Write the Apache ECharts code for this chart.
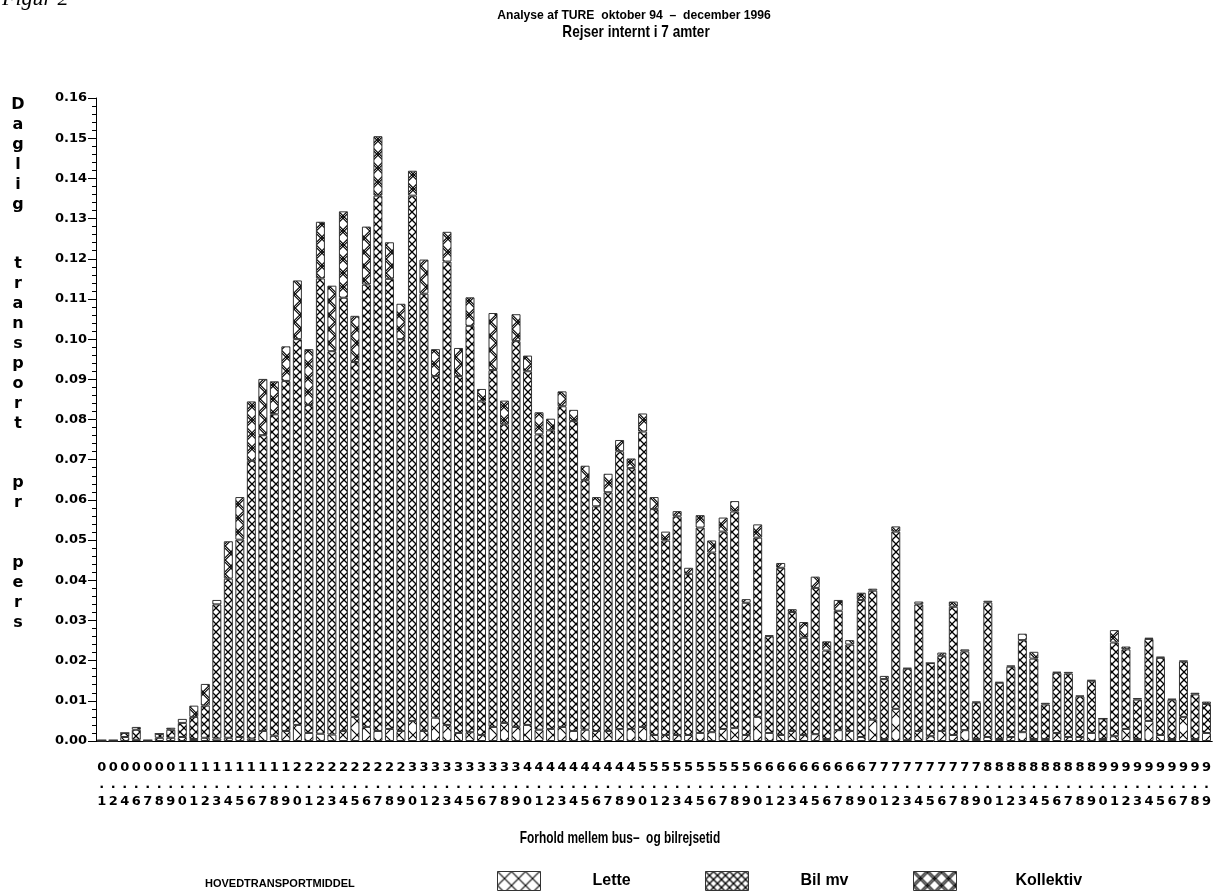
<!DOCTYPE html>
<html>
<head>
<meta charset="UTF-8">
<script src="https://cdn.jsdelivr.net/npm/echarts@6/dist/echarts.min.js"></script>
<style>
  html, body { margin: 0; padding: 0; background: #fff; }
  #chart { width: 1214px; height: 894px; }
</style>
</head>
<body>
<div id="chart"></div>
<script>
// forhold mellem bus- og bilrejsetid
var categories = ['0.1','0.2','0.4','0.6','0.7','0.8','0.9',
  '1.0','1.1','1.2','1.3','1.4','1.5','1.6','1.7','1.8','1.9',
  '2.0','2.1','2.2','2.3','2.4','2.5','2.6','2.7','2.8','2.9',
  '3.0','3.1','3.2','3.3','3.4','3.5','3.6','3.7','3.8','3.9',
  '4.0','4.1','4.2','4.3','4.4','4.5','4.6','4.7','4.8','4.9',
  '5.0','5.1','5.2','5.3','5.4','5.5','5.6','5.7','5.8','5.9',
  '6.0','6.1','6.2','6.3','6.4','6.5','6.6','6.7','6.8','6.9',
  '7.0','7.1','7.2','7.3','7.4','7.5','7.6','7.7','7.8','7.9',
  '8.0','8.1','8.2','8.3','8.4','8.5','8.6','8.7','8.8','8.9',
  '9.0','9.1','9.2','9.3','9.4','9.5','9.6','9.7','9.8','9.9'];

var lette = [0,0,0.001,0.0003,0,0.0008,0.0008,
  0.001,0.0005,0.0008,0.0006,0.0008,0.001,0.0006,0.0025,0.0013,0.0025,
  0.004,0.002,0.0018,0.0016,0.0025,0.006,0.0035,0.0025,0.003,0.0025,
  0.005,0.0025,0.0058,0.004,0.002,0.0022,0.0015,0.0035,0.0045,0.0035,
  0.004,0.0028,0.003,0.0035,0.0025,0.0028,0.0025,0.0025,0.003,0.003,
  0.0035,0.0015,0.0015,0.0015,0.0015,0.002,0.0022,0.003,0.0032,0.0015,
  0.006,0.002,0.0015,0.0025,0.0015,0.0017,0.0005,0.0027,0.0025,0.001,
  0.0053,0.0005,0.008,0.0002,0.0025,0.0012,0.0025,0.0015,0.0027,0.0005,
  0.001,0.0005,0.001,0.0022,0.0005,0.0005,0.002,0.001,0.001,0.002,
  0.0005,0.0012,0.003,0.0005,0.005,0.0015,0.0005,0.006,0.0005,0.002];

var bilMv = [0.0002,0.0002,0.001,0.0025,0.0002,0.001,0.002,
  0.0035,0.0055,0.008,0.0334,0.0396,0.0491,0.0691,0.0736,0.08,0.0871,
  0.096,0.0816,0.1133,0.0954,0.1078,0.0883,0.1101,0.1332,0.112,0.0975,
  0.1307,0.1088,0.085,0.1153,0.0888,0.1011,0.083,0.0888,0.0743,0.096,
  0.088,0.0735,0.0743,0.0798,0.0771,0.0621,0.0559,0.0594,0.0691,0.0649,
  0.0735,0.0562,0.0484,0.0544,0.0401,0.0511,0.0447,0.0491,0.0539,0.0329,
  0.0446,0.0241,0.0416,0.0296,0.0242,0.0364,0.022,0.0297,0.0215,0.0341,
  0.0321,0.0149,0.0441,0.0178,0.0315,0.0182,0.0187,0.0319,0.0196,0.0091,
  0.0335,0.014,0.0175,0.0229,0.02,0.0086,0.015,0.0158,0.0101,0.013,
  0.0051,0.0233,0.0198,0.0098,0.0204,0.0192,0.0098,0.0138,0.0111,0.0072];

var kollektiv = [0,0,0,0.0007,0,0,0.0005,
  0.001,0.0028,0.0054,0.0011,0.0093,0.0106,0.0148,0.014,0.0082,0.0086,
  0.0146,0.0139,0.0141,0.0163,0.0215,0.0115,0.0144,0.0148,0.0091,0.0088,
  0.0062,0.0085,0.0067,0.0074,0.007,0.0071,0.0031,0.0142,0.0059,0.0067,
  0.0039,0.0055,0.0029,0.0037,0.0028,0.0036,0.0023,0.0046,0.0028,0.0024,
  0.0045,0.003,0.0022,0.0013,0.0015,0.0031,0.003,0.0035,0.0026,0.0009,
  0.0033,0.0002,0.0012,0.0007,0.0039,0.0028,0.0023,0.0027,0.0011,0.0018,
  0.0005,0.0008,0.0013,0.0002,0.0007,0,0.0008,0.0013,0.0005,0.0002,
  0.0004,0.0002,0.0003,0.0016,0.0017,0.0004,0.0002,0.0004,0.0002,0.0002,
  0,0.0031,0.0007,0.0004,0.0003,0.0003,0.0002,0.0002,0.0004,0.0006];

var yLabelText = 'Daglig  transport  pr  pers';

// krydsskravering som canvas-mønster
function hatch(size, lw, dbl) {
    var c = document.createElement('canvas');
    c.width = size; c.height = size;
    var g = c.getContext('2d');
    g.fillStyle = '#fff';
    g.fillRect(0, 0, size, size);
    g.strokeStyle = '#000';
    g.lineWidth = lw;
    var offs = dbl ? [-1.3, 1.3] : [0];
    offs.forEach(function (o) {
        for (var k = -1; k <= 1; k++) {
            g.beginPath();
            g.moveTo(k * size + o, 0); g.lineTo(k * size + size + o, size);
            g.moveTo(k * size + size + o, 0); g.lineTo(k * size + o, size);
            g.stroke();
        }
    });
    return { image: c, repeat: 'repeat' };
}

var sans = "'Liberation Sans', Arial, sans-serif";
var sansW = "'DejaVu Sans', sans-serif";

var chart = echarts.init(document.getElementById('chart'));

var names = ['Lette', 'Bil mv', 'Kollektiv'];
var patterns = [hatch(14, 1.1, false), hatch(8, 1.3, false), hatch(14, 1.1, true)];
var values = [lette, bilMv, kollektiv];
var legendLeft = [497, 705, 913];
var legendPad = [47, 47, 54];

var series = names.map(function (n, i) {
    return {
        name: n,
        type: 'bar',
        stack: 'all',
        barWidth: 9,
        data: values[i],
        itemStyle: { color: patterns[i], borderColor: '#333', borderWidth: 1 },
        emphasis: { disabled: true }
    };
});

var legends = names.map(function (n, i) {
    return {
        data: [n],
        left: legendLeft[i], top: 871,
        padding: 0,
        itemWidth: 43, itemHeight: 19,
        icon: 'rect',
        selectedMode: false,
        itemStyle: { borderColor: '#333', borderWidth: 1 },
        textStyle: {
            fontFamily: sans, fontWeight: 'bold', fontSize: 16, color: '#000',
            padding: [10, 0, 0, legendPad[i]]
        }
    };
});

var vertical = yLabelText.split('').join('\n');

var option = {
    animation: false,
    backgroundColor: '#fff',
    grid: { left: 96, right: 1, top: 98, bottom: 153 },
    legend: legends,
    xAxis: {
        type: 'category',
        data: categories,
        axisLine: { lineStyle: { color: '#000', width: 1 } },
        axisTick: { show: false },
        axisLabel: {
            interval: 0,
            margin: 18,
            fontFamily: sansW, fontWeight: 'bold', fontSize: 13, color: '#000',
            lineHeight: 17,
            formatter: function (v) { return v.charAt(0) + '\n.\n' + v.charAt(2); }
        }
    },
    yAxis: {
        type: 'value',
        min: 0, max: 0.16, interval: 0.01,
        axisLine: { show: true, lineStyle: { color: '#000', width: 1 } },
        axisTick: { show: true, length: 8, lineStyle: { color: '#000' } },
        minorTick: { show: true, splitNumber: 5, length: 4, lineStyle: { color: '#000' } },
        splitLine: { show: false },
        axisLabel: {
            margin: 9,
            fontFamily: sansW, fontWeight: 'bold', fontSize: 13, color: '#000',
            formatter: function (v) { return v.toFixed(2); }
        }
    },
    graphic: [
        { type: 'text', left: 2, top: -12,
          style: { text: 'Figur 2', font: 'italic 22px "Liberation Serif", serif', fill: '#000' } },
        { type: 'text', x: 634, y: 15, scaleX: 0.935,
          style: { text: 'Analyse af TURE  oktober 94  \u2013  december 1996', font: 'bold 13px ' + sans,
                   fill: '#000', textAlign: 'center', textVerticalAlign: 'middle' } },
        { type: 'text', x: 636, y: 32, scaleX: 0.8,
          style: { text: 'Rejser internt i 7 amter', font: 'bold 17px ' + sans,
                   fill: '#000', textAlign: 'center', textVerticalAlign: 'middle' } },
        { type: 'text', x: 18, y: 95,
          style: { text: vertical, font: 'bold 16px ' + sansW, lineHeight: 19.9,
                   fill: '#000', textAlign: 'center' } },
        { type: 'text', x: 620, y: 838, scaleX: 0.7,
          style: { text: 'Forhold mellem bus\u2013  og bilrejsetid', font: 'bold 17px ' + sans,
                   fill: '#000', textAlign: 'center', textVerticalAlign: 'middle' } },
        { type: 'text', x: 205, y: 884,
          style: { text: 'HOVEDTRANSPORTMIDDEL', font: 'bold 11px ' + sans,
                   fill: '#000', textAlign: 'left', textVerticalAlign: 'middle' } }
    ],
    series: series
};

chart.setOption(option);
</script>
</body>
</html>
